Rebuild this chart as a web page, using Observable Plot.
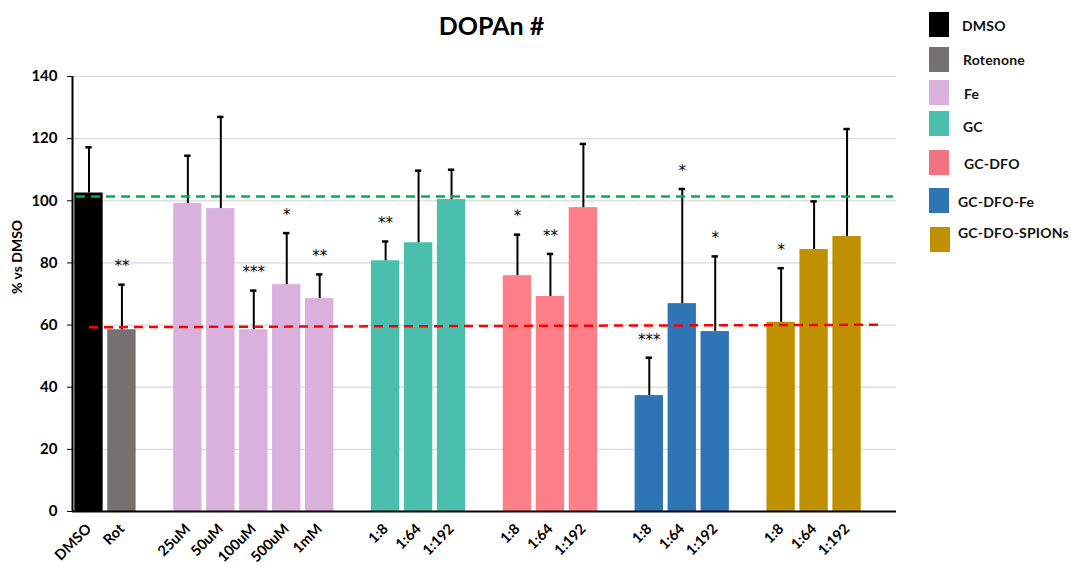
<!DOCTYPE html>
<html>
<head>
<meta charset="utf-8">
<script src="https://cdn.jsdelivr.net/npm/d3@7"></script>
<script src="https://cdn.jsdelivr.net/npm/@observablehq/plot@0.6"></script>
<style>
  body { margin: 0; background: #fff; font-family: Lato, "Open Sans", sans-serif; }
  #wrap { position: relative; width: 1071px; height: 566px; }
  #title { position: absolute; left: 0; top: 10px; width: 983px; text-align: center;
           font-size: 25px; font-weight: 700; color: #000; }
  #chart { position: absolute; left: 0; top: 0; }
  .swatch { position: absolute; width: 20px; height: 25px; }
  .leg-label { position: absolute; font-size: 14px; font-weight: 700; color: #111;
               line-height: 1; transform: translateY(-50%); white-space: nowrap; letter-spacing: 0.2px; }
</style>
</head>
<body>
<div id="wrap">
  <div id="chart"></div>
  <div id="title">DOPAn #</div>
  <div id="legend"></div>
</div>
<script>
// Treatments and their fill colours
const groups = ["DMSO", "Rotenone", "Fe", "GC", "GC-DFO", "GC-DFO-Fe", "GC-DFO-SPIONs"];
const groupColors = ["#000000", "#767171", "#dab0dd", "#4bbfad", "#ff7f88", "#2e75b6", "#bf9000"];
const legendColors = ["#000000", "#767171", "#dab0dd", "#4bbfad", "#f0737f", "#2e75b6", "#bf9000"];

// One entry per bar
const barGroups = ["DMSO", "Rotenone", "Fe", "Fe", "Fe", "Fe", "Fe",
  "GC", "GC", "GC", "GC-DFO", "GC-DFO", "GC-DFO",
  "GC-DFO-Fe", "GC-DFO-Fe", "GC-DFO-Fe",
  "GC-DFO-SPIONs", "GC-DFO-SPIONs", "GC-DFO-SPIONs"];
const barLabels = ["DMSO", "Rot", "25uM", "50uM", "100uM", "500uM", "1mM",
  "1:8", "1:64", "1:192", "1:8", "1:64", "1:192",
  "1:8", "1:64", "1:192", "1:8", "1:64", "1:192"];
const means = [102.5, 58.5, 99.1, 97.5, 58.5, 73.0, 68.5,
  80.7, 86.5, 100.4, 75.9, 69.2, 97.8,
  37.3, 66.9, 57.9, 60.9, 84.3, 88.5];
const sds = [14.7, 14.5, 15.4, 29.5, 12.6, 16.6, 7.8,
  6.2, 23.2, 9.6, 13.2, 13.7, 20.5,
  12.2, 36.9, 24.2, 17.4, 15.5, 34.6];
const stars = ["", "**", "", "", "***", "*", "**",
  "**", "", "", "*", "**", "",
  "***", "*", "*", "*", "", ""];

// Reference levels: DMSO (green) and rotenone (red)
const dmsoLevel = 101.4;
const rotLevel = [59.3, 60.1];
const yTicks = [0, 20, 40, 60, 80, 100, 120, 140];

// DMSO and Rot share a cluster; every other treatment is its own cluster
const cluster = g => (g === "Rotenone" ? "DMSO" : g);

const rows = barLabels.map((label, i) => ({
  key: `${barGroups[i]}|${label}`,
  label,
  group: barGroups[i],
  mean: means[i],
  top: means[i] + sds[i],
  star: stars[i]
}));

// Band domain with an empty slot between clusters and one at the end
const slots = [];
let prev = null, gapIndex = 0;
for (const r of rows) {
  const c = cluster(r.group);
  if (prev !== null && c !== prev) slots.push(`gap${gapIndex++}`);
  slots.push(r.key);
  prev = c;
}
slots.push(`gap${gapIndex++}`);
const labelOf = new Map(rows.map(r => [r.key, r.label]));

const width = 1071, height = 566;
const margin = { left: 72, right: 175, top: 76, bottom: 55 };
const step = (width - margin.left - margin.right) / slots.length;

const chart = Plot.plot({
  width,
  height,
  marginLeft: margin.left,
  marginRight: margin.right,
  marginTop: margin.top,
  marginBottom: margin.bottom,
  style: { fontFamily: "Lato, 'Open Sans', sans-serif", fontSize: "15px", fontWeight: "700", color: "#000", background: "transparent" },
  x: { type: "band", domain: slots, paddingInner: 0.14, paddingOuter: 0.07, round: false },
  y: { domain: [0, 140] },
  color: { domain: groups, range: groupColors },
  marks: [
    Plot.gridY(yTicks.filter(d => d > 0), { stroke: "#d9d9d9", strokeOpacity: 1, strokeWidth: 1.2 }),
    Plot.barY(rows, { x: "key", y: "mean", fill: "group" }),
    Plot.ruleX(rows, { x: "key", y1: "mean", y2: "top", stroke: "#000", strokeWidth: 2 }),
    Plot.tickY(rows, { x: "key", y: "top", stroke: "#000", strokeWidth: 2.5, insetLeft: 11, insetRight: 11 }),
    Plot.ruleY([dmsoLevel], { stroke: "#00b050", strokeWidth: 2.5, strokeDasharray: "9,6", insetLeft: 4, insetRight: 3 }),
    Plot.link([rotLevel], {
      x1: () => slots[0], x2: () => slots[slots.length - 1],
      y1: d => d[0], y2: d => d[1],
      stroke: "#ff0000", strokeWidth: 2.5, strokeDasharray: "9,6"
    }),
    Plot.text(rows.filter(r => r.star), {
      x: "key", y: "top", text: "star", dy: -18,
      fontFamily: "DejaVu Sans", fontSize: 15, fontWeight: 400, fill: "#000", letterSpacing: 2
    }),
    Plot.axisY(yTicks, { tickSize: 5, tickPadding: 10, label: null, fontSize: 15, stroke: "#000" }),
    // vertical axis line at the left edge of the first slot
    Plot.ruleX([slots[0]], { y1: 0, y2: 140, dx: -step / 2, stroke: "#000", strokeWidth: 2 }),
    Plot.text(["% vs DMSO"], {
      frameAnchor: "left", rotate: -90, dx: -55, fontSize: 14, fontWeight: 700, fill: "#000"
    }),
    Plot.axisX({
      tickRotate: -45, tickSize: 0, tickPadding: 15, label: null, fontSize: 14.5,
      tickFormat: k => labelOf.get(k) ?? ""
    }),
    Plot.ruleY([0], { stroke: "#000", strokeWidth: 2 })
  ]
});
document.getElementById("chart").append(chart);

// Legend at the right-hand side
const legendTops = [12, 47, 80, 111, 150, 188, 227];
const legendLabelX = [962, 963, 964, 963, 964, 958, 958];
const legendLabelDy = [1, 0, 1.5, 3, 1, 1, -6.5];
const legend = document.getElementById("legend");
groups.forEach((g, i) => {
  const sw = document.createElement("div");
  sw.className = "swatch";
  sw.style.left = (i === groups.length - 1 ? 930 : 929) + "px";
  sw.style.top = legendTops[i] + "px";
  sw.style.background = legendColors[i];
  legend.append(sw);
  const lab = document.createElement("div");
  lab.className = "leg-label";
  lab.style.left = legendLabelX[i] + "px";
  lab.style.top = (legendTops[i] + 12.5 + legendLabelDy[i]) + "px";
  lab.textContent = g;
  legend.append(lab);
});
</script>
</body>
</html>
